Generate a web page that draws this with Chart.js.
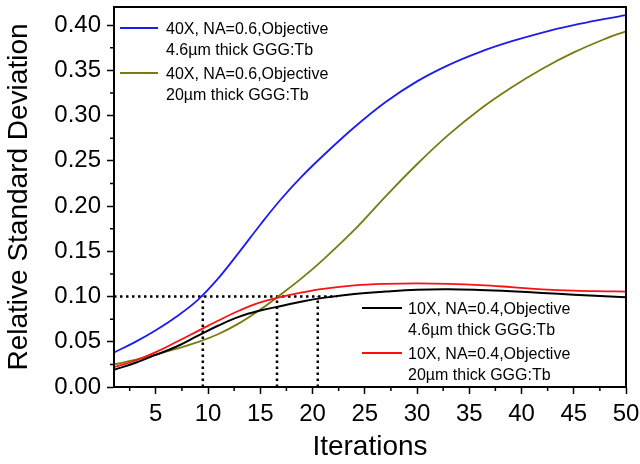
<!DOCTYPE html>
<html lang="en">
<head>
    <meta charset="UTF-8">
    <title>Relative Standard Deviation</title>
    <script src="https://cdn.jsdelivr.net/npm/chart.js@4.4.0/dist/chart.umd.min.js"></script>
    <style>
        body { margin: 0; background: #fff; }
    </style>
</head>
<body>
    <div>
        <canvas id="myChart" width="640" height="464"></canvas>
    </div>

    <script>
        // values
        var iterations = [1, 3, 5, 7, 9, 11, 13, 15, 17, 19, 21, 24, 27, 30, 33, 36, 39, 42, 45, 48, 50];
        var na06thin = [0.038, 0.0496, 0.0628, 0.078, 0.096, 0.1204, 0.1494, 0.1794, 0.2078, 0.233, 0.2556, 0.2871, 0.315, 0.3378, 0.3558, 0.3702, 0.3819, 0.3918, 0.3999, 0.4068, 0.411];
        var na06thick = [0.025, 0.030, 0.036, 0.0424, 0.0496, 0.0586, 0.0706, 0.0856, 0.1026, 0.1206, 0.1406, 0.1736, 0.2108, 0.2462, 0.2786, 0.3068, 0.3308, 0.3518, 0.3698, 0.3848, 0.3932];
        var na04thin = [0.019, 0.0265, 0.0355, 0.0448, 0.0565, 0.068, 0.0778, 0.0845, 0.0895, 0.0945, 0.0985, 0.1028, 0.1055, 0.1075, 0.108, 0.1072, 0.1058, 0.104, 0.102, 0.1003, 0.0992];
        var na04thick = [0.022, 0.029, 0.0385, 0.050, 0.0618, 0.0735, 0.0845, 0.0935, 0.0995, 0.1045, 0.1085, 0.1123, 0.114, 0.1145, 0.114, 0.1127, 0.1105, 0.108, 0.1065, 0.1058, 0.1055];

        var xTicks = [5, 10, 15, 20, 25, 30, 35, 40, 45, 50];
        var yTicks = [0, 0.05, 0.10, 0.15, 0.20, 0.25, 0.30, 0.35, 0.40];

        // dotted guide lines
        var refLevel = 0.10;
        var refIterations = [9.5, 16.6, 20.5];
        var refLineEnd = 22.3;

        var topLegend = [
            { color: '#1c1cf0', lines: ['40X, NA=0.6,Objective', '4.6\u00b5m thick GGG:Tb'] },
            { color: '#7a7a10', lines: ['40X, NA=0.6,Objective', '20\u00b5m thick GGG:Tb'] }
        ];
        var bottomLegend = [
            { color: '#000000', lines: ['10X, NA=0.4,Objective', '4.6\u00b5m thick GGG:Tb'] },
            { color: '#ff1010', lines: ['10X, NA=0.4,Objective', '20\u00b5m thick GGG:Tb'] }
        ];

        function pts(xs, ys) {
            return xs.map(function (x, i) { return { x: x, y: ys[i] }; });
        }

        function curve(values, color, width) {
            return {
                data: pts(iterations, values),
                borderColor: color,
                borderWidth: width,
                pointRadius: 0,
                tension: 0.4,
                fill: false
            };
        }

        function dotted(data) {
            return {
                data: data,
                borderColor: '#000',
                borderWidth: 2.5,
                borderDash: [2.5, 3.5],
                pointRadius: 0,
                tension: 0,
                fill: false
            };
        }

        var datasets = [
            curve(na04thin, '#000000', 2),
            curve(na04thick, '#ff1010', 1.8),
            curve(na06thick, '#7a7a10', 1.8),
            curve(na06thin, '#1c1cf0', 1.8),
            dotted([{ x: 1, y: refLevel }, { x: refLineEnd, y: refLevel }])
        ];
        refIterations.forEach(function (x) {
            datasets.push(dotted([{ x: x, y: 0 }, { x: x, y: refLevel }]));
        });

        var font = '"Liberation Sans", Arial, sans-serif';

        function drawLegend(ctx, items, lineX0, lineX1, textX, y0) {
            ctx.save();
            ctx.font = '16px ' + font;
            ctx.fillStyle = '#000';
            ctx.textBaseline = 'middle';
            ctx.textAlign = 'left';
            items.forEach(function (it, i) {
                var y = y0 + i * 45;
                ctx.strokeStyle = it.color;
                ctx.lineWidth = 2;
                ctx.beginPath();
                ctx.moveTo(lineX0, y);
                ctx.lineTo(lineX1, y);
                ctx.stroke();
                ctx.fillText(it.lines[0], textX, y + 2);
                ctx.fillText(it.lines[1], textX, y + 23);
            });
            ctx.restore();
        }

        var framePlugin = {
            id: 'frame',
            afterDatasetsDraw: function (chart) {
                var ctx = chart.ctx;
                var a = chart.chartArea;
                var xs = chart.scales.x, ys = chart.scales.y;
                ctx.save();
                ctx.strokeStyle = '#000';
                ctx.lineWidth = 2;
                ctx.strokeRect(a.left, a.top, a.right - a.left, a.bottom - a.top);
                // minor ticks
                ctx.lineWidth = 1.5;
                ctx.beginPath();
                for (var v = 2.5; v <= 50; v += 5) {
                    var px = xs.getPixelForValue(v);
                    ctx.moveTo(px, a.bottom);
                    ctx.lineTo(px, a.bottom + 4);
                }
                for (var w = 0.025; w < 0.42; w += 0.05) {
                    var py = ys.getPixelForValue(w);
                    ctx.moveTo(a.left, py);
                    ctx.lineTo(a.left - 4, py);
                }
                ctx.stroke();
                ctx.restore();

                drawLegend(ctx, topLegend, a.left + 6, a.left + 44, a.left + 52, a.top + 21);
                drawLegend(ctx, bottomLegend, a.left + 248, a.left + 288, a.left + 294, a.top + 301);
            }
        };

        var ctx = document.getElementById('myChart').getContext('2d');
        var myChart = new Chart(ctx, {
            type: 'line',
            data: { datasets: datasets },
            plugins: [framePlugin],
            options: {
                responsive: false,
                animation: false,
                layout: { padding: { top: 7, right: 14, left: 0, bottom: 0 } },
                plugins: {
                    legend: { display: false },
                    tooltip: { enabled: false }
                },
                scales: {
                    x: {
                        type: 'linear',
                        min: 1,
                        max: 50,
                        afterBuildTicks: function (s) {
                            s.ticks = xTicks.map(function (v) { return { value: v }; });
                        },
                        afterFit: function (s) {
                            s.height = 77;
                            s.paddingLeft = 0;
                            s.paddingRight = 0;
                        },
                        grid: { drawOnChartArea: false, tickLength: 7, tickWidth: 1.5, tickColor: '#000' },
                        border: { color: '#000', width: 2 },
                        ticks: {
                            color: '#000',
                            padding: 6,
                            maxRotation: 0,
                            font: { family: font, size: 24 }
                        },
                        title: {
                            display: true,
                            text: 'Iterations',
                            color: '#000',
                            padding: { top: 0, bottom: 0 },
                            font: { family: font, size: 28 }
                        }
                    },
                    y: {
                        min: 0,
                        max: 0.42,
                        afterBuildTicks: function (s) {
                            s.ticks = yTicks.map(function (v) { return { value: v }; });
                        },
                        afterFit: function (s) {
                            s.width = 114;
                            s.paddingTop = 0;
                            s.paddingBottom = 0;
                        },
                        grid: { drawOnChartArea: false, tickLength: 7, tickWidth: 1.5, tickColor: '#000' },
                        border: { color: '#000', width: 2 },
                        ticks: {
                            color: '#000',
                            padding: 6,
                            font: { family: font, size: 24 },
                            callback: function (v) { return v.toFixed(2); }
                        },
                        title: {
                            display: true,
                            text: 'Relative Standard Deviation',
                            color: '#000',
                            padding: { top: 2, bottom: 0 },
                            font: { family: font, size: 28 }
                        }
                    }
                }
            }
        });
    </script>
</body>
</html>
